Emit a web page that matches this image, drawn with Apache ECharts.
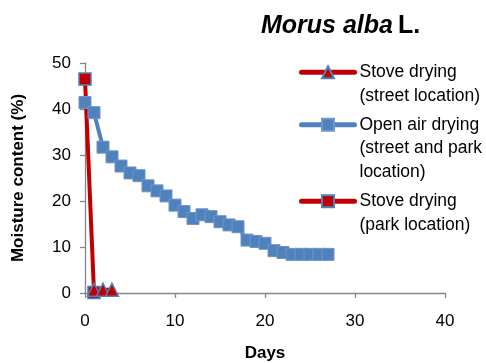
<!DOCTYPE html>
<html>
<head>
<meta charset="utf-8">
<script src="https://cdn.jsdelivr.net/npm/echarts@6/dist/echarts.min.js"></script>
<style>
  html, body { margin: 0; padding: 0; background: #fff; }
  #chart { width: 486px; height: 363px; }
</style>
</head>
<body>
<div id="chart"></div>
<script>
// values (moisture content, %)
const openAirDays = [0, 1, 2, 3, 4, 5, 6, 7, 8, 9, 10, 11, 12, 13, 14, 15, 16, 17, 18, 19, 20, 21, 22, 23, 24, 25, 26, 27];
const openAirValues = [41.4, 39.2, 31.7, 29.6, 27.6, 26.1, 25.5, 23.3, 22.2, 21.1, 19.1, 17.7, 16.2, 17.0, 16.6, 15.5, 14.8, 14.4, 11.5, 11.2, 10.8, 9.2, 8.8, 8.4, 8.4, 8.4, 8.4, 8.4];
const parkDays = [0, 1];
const parkValues = [46.5, 0.1];
const streetDays = [1, 2, 3];
const streetValues = [0.7, 0.7, 0.7];

const nameStreet = 'Stove drying (street location)';
const nameOpen = 'Open air drying (street and park location)';
const nameParkS = 'Stove drying (park location)';
// first line is kept centred on the legend icon
const legendLabels = {};
legendLabels[nameStreet] = '\nStove drying\n(street location)';
legendLabels[nameOpen] = '\n\nOpen air drying\n(street and park\nlocation)';
legendLabels[nameParkS] = '\nStove drying\n(park location)';

const RED = '#C00000';
const BLUE = '#4F81BD';
const FONT = '"Liberation Sans", Arial, sans-serif';

function pairs(xs, ys) {
  return xs.map((x, i) => [x, ys[i]]);
}

function legendAt(top, name) {
  return {
    left: 299,
    top: top,
    padding: 0,
    orient: 'vertical',
    itemWidth: 53,
    itemHeight: 15,
    selectedMode: false,
    data: [name],
    formatter: (n) => legendLabels[n],
    lineStyle: { width: 5, cap: 'round' },
    textStyle: { fontFamily: FONT, fontSize: 17.5, lineHeight: 23.5, color: '#000' }
  };
}

const axisCommon = {
  type: 'value',
  axisLine: { show: true, lineStyle: { color: '#868686', width: 1.3 } },
  axisTick: { show: true, length: 5, lineStyle: { color: '#868686', width: 1.3 } },
  splitLine: { show: false },
  nameLocation: 'middle',
  nameTextStyle: { fontFamily: FONT, fontSize: 17, fontWeight: 'bold', color: '#000' }
};

const chart = echarts.init(document.getElementById('chart'));
chart.setOption({
  animation: false,
  title: {
    text: '{i|Morus alba} {b|L.}',
    left: 261,
    top: 14,
    padding: 0,
    textStyle: {
      rich: {
        i: { fontFamily: FONT, fontSize: 25, fontWeight: 'bold', fontStyle: 'italic', color: '#000' },
        b: { fontFamily: FONT, fontSize: 25, fontWeight: 'bold', color: '#000' }
      }
    }
  },
  legend: [
    legendAt(37, nameStreet),
    legendAt(66, nameOpen),
    legendAt(166, nameParkS)
  ],
  grid: { left: 85, right: 41, top: 63, bottom: 70, containLabel: false, outerBoundsMode: 'none' },
  xAxis: Object.assign({}, axisCommon, {
    min: 0, max: 40, interval: 10,
    axisLabel: { fontFamily: FONT, fontSize: 17, color: '#000', margin: 20 },
    name: 'Days', nameGap: 52
  }),
  yAxis: Object.assign({}, axisCommon, {
    min: 0, max: 50, interval: 10,
    axisLabel: { fontFamily: FONT, fontSize: 17, color: '#000', margin: 14 },
    name: 'Moisture content (%)', nameGap: 58
  }),
  series: [
    {
      name: nameOpen,
      type: 'line',
      clip: false,
      symbol: 'rect',
      symbolSize: 12,
      lineStyle: { color: BLUE, width: 4 },
      itemStyle: { color: BLUE, borderColor: '#6F95C8', borderWidth: 1 },
      data: pairs(openAirDays, openAirValues)
    },
    {
      name: nameParkS,
      type: 'line',
      clip: false,
      symbol: 'rect',
      symbolSize: 12,
      lineStyle: { color: RED, width: 4 },
      itemStyle: { color: RED, borderColor: BLUE, borderWidth: 1.5 },
      data: pairs(parkDays, parkValues)
    },
    {
      name: nameStreet,
      type: 'line',
      clip: false,
      symbol: 'triangle',
      symbolSize: 13,
      lineStyle: { color: RED, width: 4 },
      itemStyle: { color: RED, borderColor: BLUE, borderWidth: 1.5 },
      data: pairs(streetDays, streetValues)
    }
  ]
});
</script>
</body>
</html>
